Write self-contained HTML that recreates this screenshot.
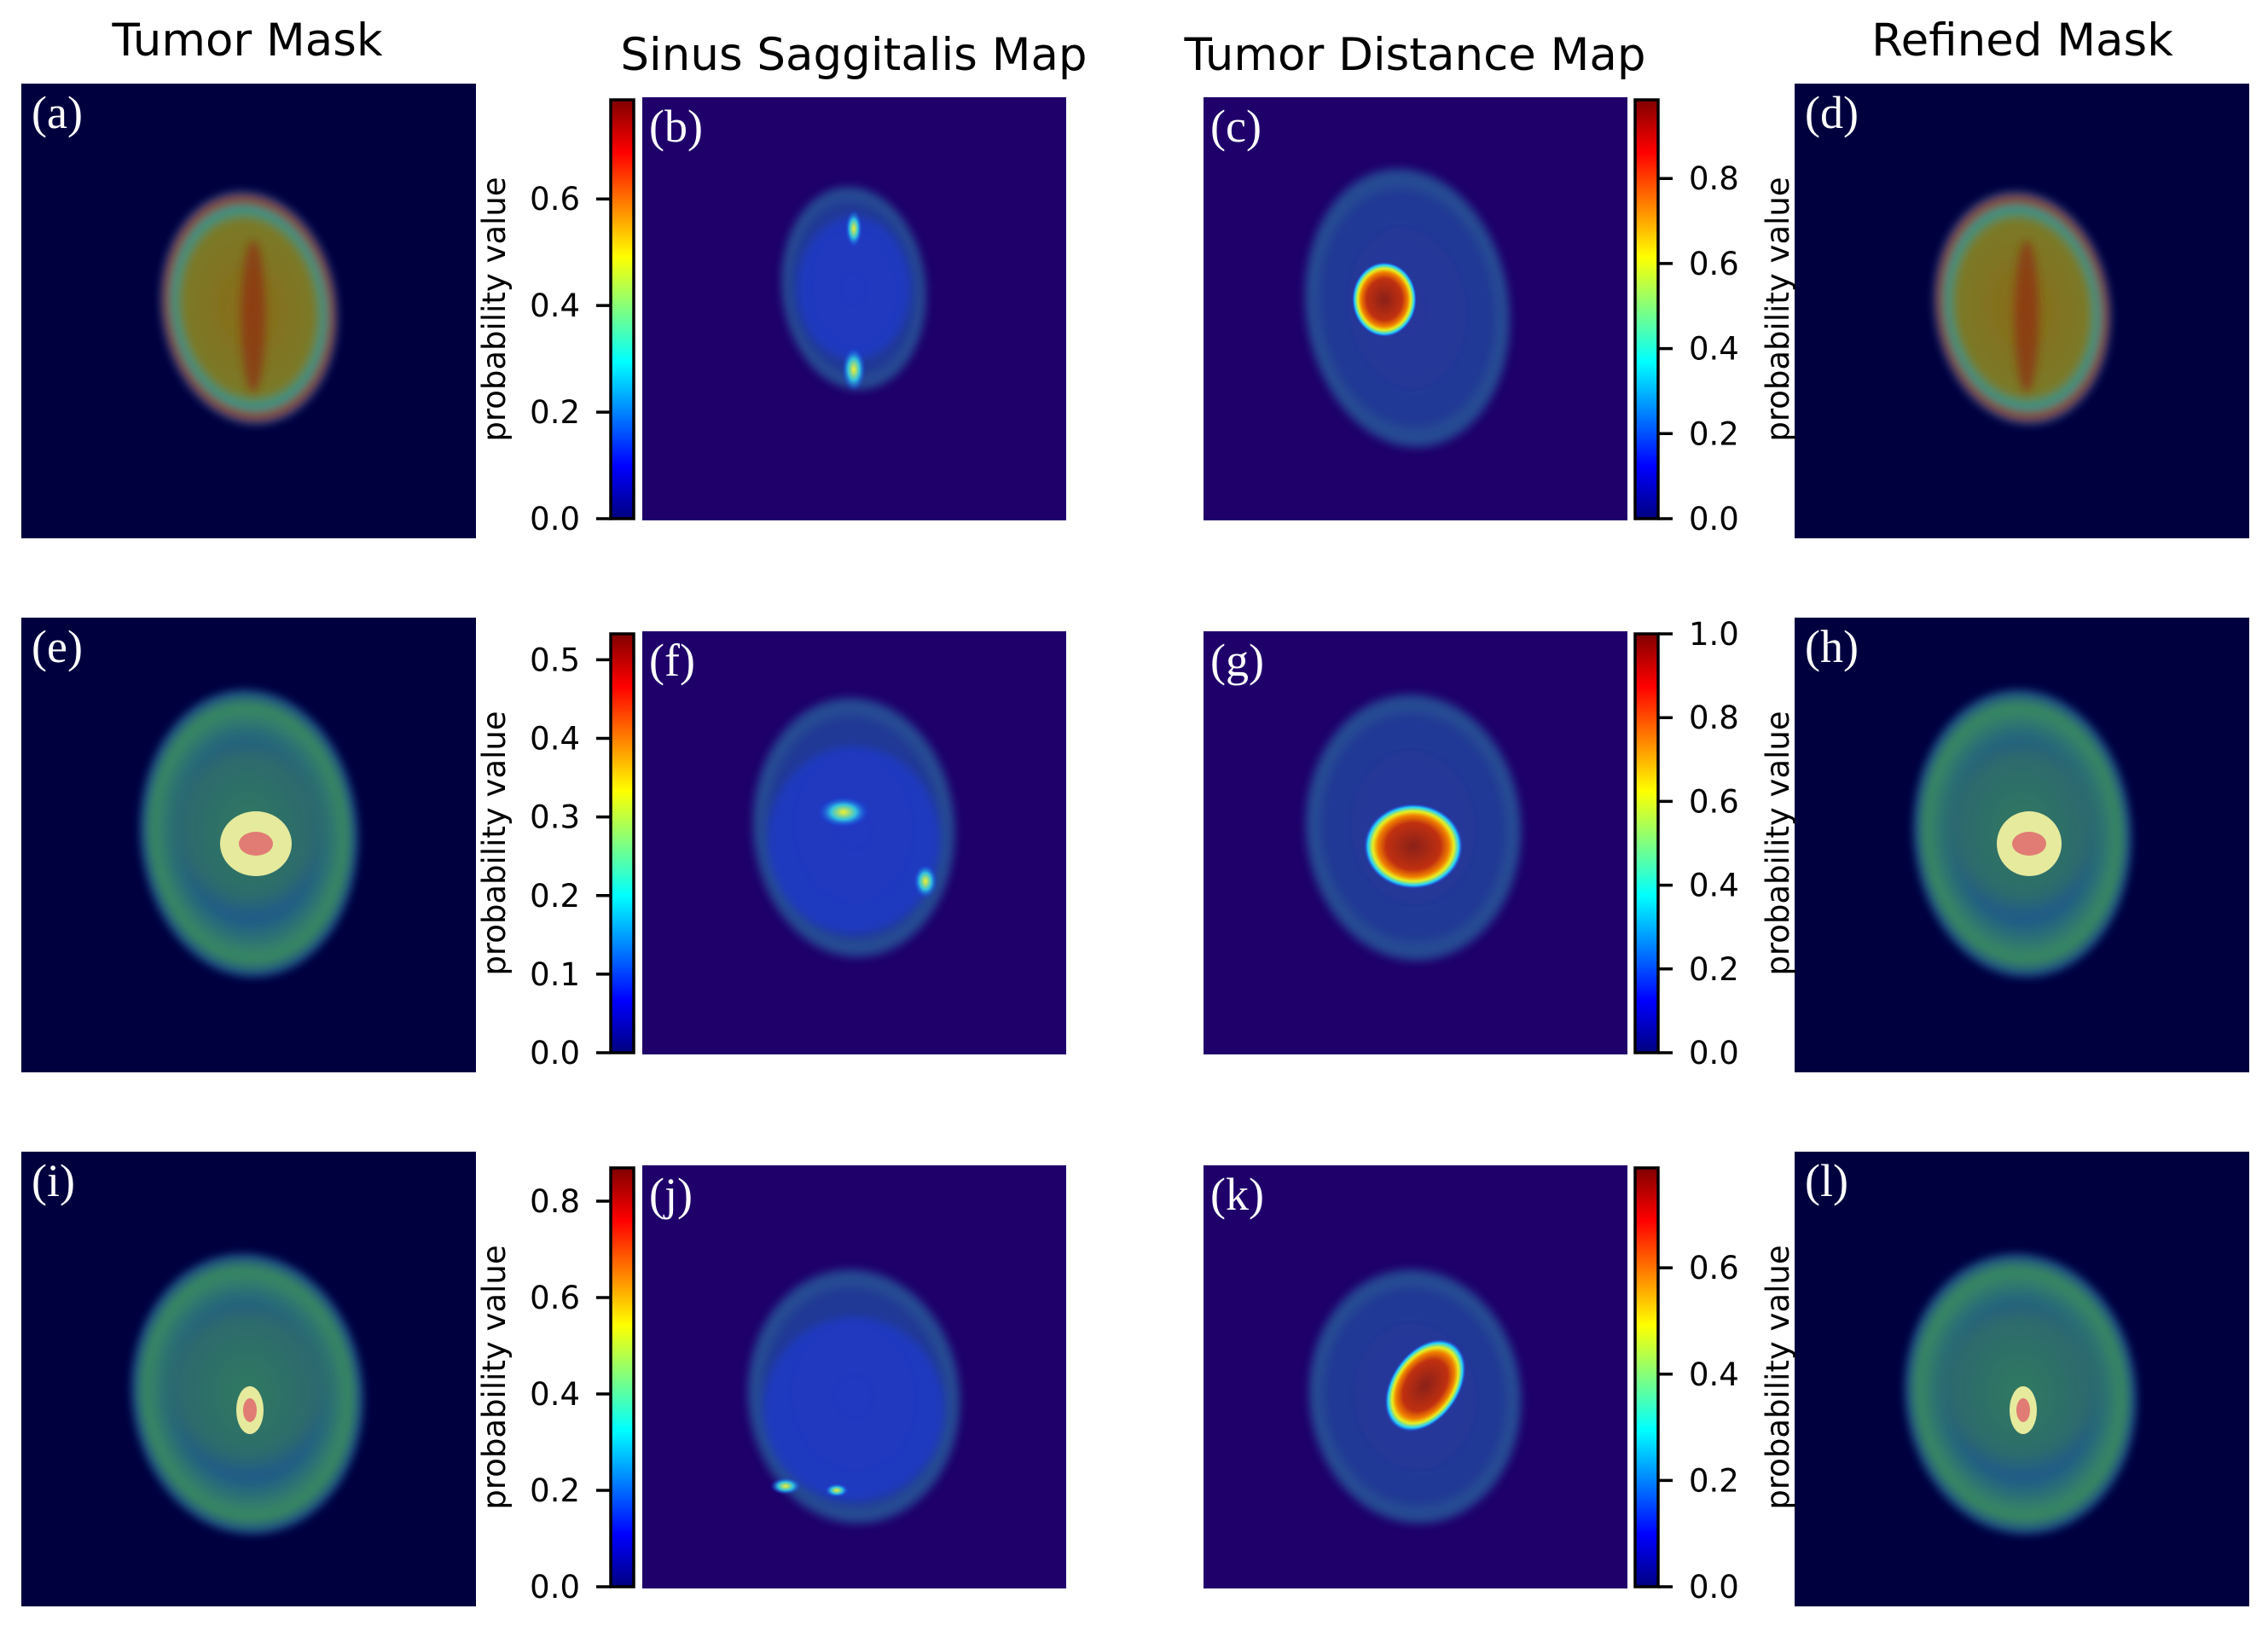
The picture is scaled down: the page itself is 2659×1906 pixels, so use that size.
<!DOCTYPE html>
<html><head><meta charset="utf-8"><style>
html,body{margin:0;padding:0;background:#fff;}
svg{display:block;}
text{font-family:"DejaVu Sans","Liberation Sans",sans-serif;}
.pl{font-family:"Liberation Serif",serif;fill:#fff;font-size:54px;}
</style></head><body>
<svg id="fig" width="2659" height="1906" viewBox="0 0 2659 1906" xmlns="http://www.w3.org/2000/svg">
<defs>
<linearGradient id="jet" x1="0" y1="1" x2="0" y2="0">
<stop offset="0" stop-color="#000080"/><stop offset="0.125" stop-color="#0000ff"/>
<stop offset="0.375" stop-color="#00ffff"/><stop offset="0.625" stop-color="#ffff00"/>
<stop offset="0.875" stop-color="#ff0000"/><stop offset="1" stop-color="#800000"/>
</linearGradient>
<filter id="blur" x="-30%" y="-30%" width="160%" height="160%"><feGaussianBlur stdDeviation="5"/></filter>
<filter id="blur2" x="-30%" y="-30%" width="160%" height="160%"><feGaussianBlur stdDeviation="10"/></filter>
<radialGradient id="maskHead1"><stop offset="0" stop-color="#8a6a18"/><stop offset="0.75" stop-color="#7a7a28"/><stop offset="0.86" stop-color="#2a9a9a"/><stop offset="0.93" stop-color="#a03a10"/><stop offset="1" stop-color="#1a5aa0"/></radialGradient>
<radialGradient id="maskHead2"><stop offset="0" stop-color="#2a7a70"/><stop offset="0.6" stop-color="#1f5a88"/><stop offset="0.88" stop-color="#3a8a60"/><stop offset="1" stop-color="#15408a"/></radialGradient>
<radialGradient id="mapHead"><stop offset="0" stop-color="#2a3aa0"/><stop offset="0.82" stop-color="#22409a"/><stop offset="0.92" stop-color="#2a5a98"/><stop offset="1" stop-color="#203a90"/></radialGradient>
<radialGradient id="tumor"><stop offset="0" stop-color="#8a2018"/><stop offset="0.55" stop-color="#c03010"/><stop offset="0.72" stop-color="#f08000"/><stop offset="0.82" stop-color="#e8f020"/><stop offset="0.92" stop-color="#20d0ff"/><stop offset="1" stop-color="#2040ff" stop-opacity="0"/></radialGradient>
<radialGradient id="speck"><stop offset="0" stop-color="#f0f030"/><stop offset="0.5" stop-color="#30c0e0"/><stop offset="1" stop-color="#1040f0" stop-opacity="0"/></radialGradient>
</defs>
<g id="layer"></g>
</svg>
<script>
// colorbar data (one per colour bar, left-col rows then right-col rows)
const cbMax = [0.786, 0.985, 0.533, 1.0, 0.869, 0.788];
const cbTicksB = [0.0, 0.2, 0.4, 0.6];
const cbTicksC = [0.0, 0.2, 0.4, 0.6, 0.8];
const cbTicksF = [0.0, 0.1, 0.2, 0.3, 0.4, 0.5];
const cbTicksG = [0.0, 0.2, 0.4, 0.6, 0.8, 1.0];
const cbTicksJ = [0.0, 0.2, 0.4, 0.6, 0.8];
const cbTicksK = [0.0, 0.2, 0.4, 0.6];
const columnTitles = ["Tumor Mask", "Sinus Saggitalis Map", "Tumor Distance Map", "Refined Mask"];
const panelLetters = ["a","b","c","d","e","f","g","h","i","j","k","l"];

const NS = "http://www.w3.org/2000/svg";
const layer = document.getElementById('layer');
function mk(tag, attrs, parent){
  const e = document.createElementNS(NS, tag);
  for (const k in attrs) e.setAttribute(k, attrs[k]);
  (parent||layer).appendChild(e);
  return e;
}
const ROW = 626;
const maskCols = [25, 2104], mapCols = [753, 1411];
const MASK_W = 533, MAP_W = 498;
const titleX = [290, 1001, 1659, 2371], titleY = [65, 82, 82, 65];
columnTitles.forEach((t,i)=>{
  const e = mk('text',{x:titleX[i],y:titleY[i],'font-size':53,'text-anchor':'middle',fill:'#000'});
  e.textContent = t;
  
  
});

function head(g, cx, cy, rx, ry, fill, op, rot, filt){
  return mk('ellipse',{cx:cx,cy:cy,rx:rx,ry:ry,fill:fill,opacity:op,transform:`rotate(${rot} ${cx} ${cy})`,filter:filt||'url(#blur)'}, g);
}
const heads = [
  {mask:[267,263,103,137,-8], map:[248,224,85,120,-6], dist:[239,247,120,165,-8]},
  {mask:[267,253,128,169,-4], map:[248,230,119,153,-4], dist:[246,230,127,157,-4]},
  {mask:[265,284,136,165,-6], map:[248,271,125,150,-6], dist:[248,271,125,150,-6]}
];
const tumors = [[212,237,38,44],[246,252,58,50],[260,258,40,60]];

for (let r=0;r<3;r++){
  const top = 98 + r*ROW, mtop = 114 + r*ROW;
  maskCols.forEach((x,ci)=>{
    const col = ci===0?0:3;
    const g = mk('g',{});
    
    
    mk('rect',{x:x,y:top,width:MASK_W,height:MASK_W,fill:'#00003f'},g);
    const h = heads[r].mask;
    head(g, x+h[0], top+h[1], h[2], h[3], r===0?'url(#maskHead1)':'url(#maskHead2)', 1, h[4]);
    if (r===0){
      mk('ellipse',{cx:x+h[0]+5,cy:top+h[1]+10,rx:14,ry:h[3]*0.65,fill:'#902010',opacity:0.6,filter:'url(#blur)'},g);
    } else {
      mk('ellipse',{cx:x+h[0],cy:top+h[1]-10,rx:h[2]*0.7,ry:h[3]*0.55,fill:'#3a7a50',opacity:0.45,filter:'url(#blur2)'},g);
      const tx = r===1? 275:268, ty = r===1? 265:303;
      mk('ellipse',{cx:x+tx,cy:top+ty,rx:r===1?(ci===0?42:38):16,ry:r===1?38:28,fill:'#f0f0a0',opacity:0.95},g);
      mk('ellipse',{cx:x+tx,cy:top+ty,rx:r===1?20:8,ry:r===1?14:14,fill:'#e07070',opacity:0.9},g);
    }
    const lab = mk('text',{x:x+12,y:top+52,class:'pl'},g);
    lab.textContent = '(' + panelLetters[r*4+col] + ')';
  });
  mapCols.forEach((x,ci)=>{
    const col = ci+1;
    const g = mk('g',{});
    
    
    mk('rect',{x:x,y:mtop,width:MAP_W-1,height:MAP_W-2,fill:'#1f006a'},g);
    const h = ci===0? heads[r].map : heads[r].dist;
    head(g, x+h[0], mtop+h[1], h[2], h[3], 'url(#mapHead)', 0.9, h[4]);
    if (ci===0){
      mk('ellipse',{cx:x+h[0],cy:mtop+h[1]+ (r===0?0:15),rx:h[2]*(r===0?0.78:0.85),ry:h[3]*(r===0?0.7:0.72),fill:'#1a3ae0',opacity:0.55,filter:'url(#blur)'},g);
      const sp = r===0? [[0,-70,10,22],[0,95,14,26]] : r===1? [[-20,-40,30,18],[140,140,14,20]] : [[-80,105,18,10],[-20,110,14,8]];
      sp.forEach(s=>mk('ellipse',{cx:x+h[0]+s[0]*(r===1?0.6:1),cy:mtop+h[1]+s[1]*(r===1?0.45:1),rx:s[2],ry:s[3],fill:'url(#speck)'},g));
    } else {
      const t = tumors[r];
      mk('ellipse',{cx:x+t[0],cy:mtop+t[1],rx:t[2],ry:t[3],fill:'url(#tumor)',transform: r===2?`rotate(35 ${x+t[0]} ${mtop+t[1]})`:''},g);
    }
    const lab = mk('text',{x:x+8,y:mtop+52,class:'pl'},g);
    lab.textContent = '(' + panelLetters[r*4+col] + ')';
  });
  const cbTop = 117 + r*ROW, cbBot = 608 + r*ROW, cbH = cbBot - cbTop;
  [[716,0],[1917,1]].forEach(([cx,side])=>{
    const idx = r*2+side;
    const vmax = cbMax[idx];
    const ticks = [[cbTicksB,cbTicksC],[cbTicksF,cbTicksG],[cbTicksJ,cbTicksK]][r][side];
    const g = mk('g',{});
    
    
    mk('rect',{x:cx,y:cbTop,width:27,height:cbH,fill:'url(#jet)',stroke:'#000','stroke-width':3.5},g);
    const yOf = v => cbBot - v/vmax*cbH;
    ticks.forEach(v=>{
      const y = yOf(v);
      if (side===0){
        mk('line',{x1:cx-17,x2:cx,y1:y,y2:y,stroke:'#000','stroke-width':3.5},g);
        const t = mk('text',{x:cx-36,y:y+13,'font-size':37,'text-anchor':'end',fill:'#000'},g);
        t.textContent = v.toFixed(1);
      } else {
        mk('line',{x1:cx+27,x2:cx+44,y1:y,y2:y,stroke:'#000','stroke-width':3.5},g);
        const t = mk('text',{x:cx+63,y:y+13,'font-size':37,'text-anchor':'start',fill:'#000'},g);
        t.textContent = v.toFixed(1);
      }
    });
    const lx = side===0? 592 : 2097, ly = (cbTop+cbBot)/2;
    const yl = mk('text',{x:lx,y:ly,'font-size':37,'text-anchor':'middle',fill:'#000',transform:`rotate(-90 ${lx} ${ly})`},g);
    yl.textContent = 'probability value';
  });
}
</script>
</body></html>
